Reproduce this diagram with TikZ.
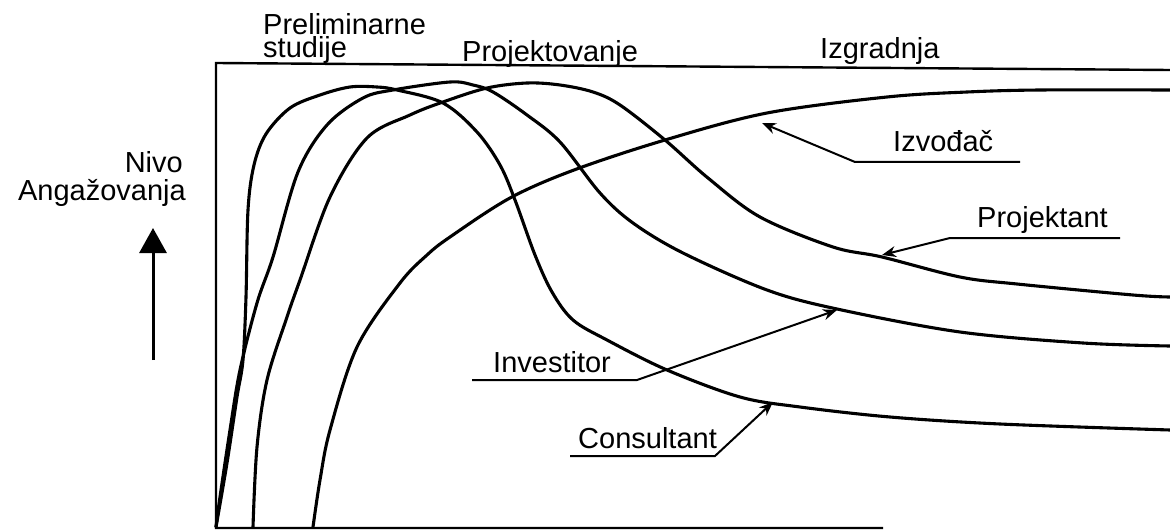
\documentclass[tikz,border=0pt]{standalone}
\usepackage{fontspec}
\setmainfont{Liberation Sans}
\usetikzlibrary{arrows.meta}
\tikzset{
  curve/.style={line width=3.1pt, line cap=round, line join=round},
  frame/.style={line width=2.4pt},
  lbl/.style={anchor=base west, inner sep=0pt, font=\fontsize{29}{29}\selectfont},
  pointer/.style={line width=2pt, -{Stealth[length=14pt,width=11pt]}},
}
\begin{document}
\begin{tikzpicture}[x=1pt,y=-1pt]
\useasboundingbox (0,0) rectangle (1170,532);
% frame
\coordinate (tl) at (216,63);
\coordinate (tr) at (1170,70);
\coordinate (bl) at (216,528);
\coordinate (br) at (883,528);
\draw[frame] (tr) -- (tl) -- (bl) -- (br);
% curves
% Consultant (steepest)
\draw[curve] plot[smooth, tension=0.55] coordinates {(216,527) (227,463) (237,397) (243,360) (246,297) (248,210) (254,165) (266,134) (290,108) (320,95) (350,87) (377,87) (397,90) (443,103) (477,132) (500,165) (515,200) (535,255) (552,292) (573,320) (607,340) (667,370) (740,397) (800,407) (890,417) (1000,424) (1170,430)};
% Investitor
\draw[curve] plot[smooth, tension=0.55] coordinates {(216,527) (220,497) (230,430) (240,370) (257,303) (273,257) (298,172) (327,125) (363,98) (393,90) (450,82) (473,85) (493,92) (527,115) (560,142) (600,193) (633,223) (683,253) (767,290) (837,309) (960,332) (1083,343) (1170,346)};
% Projektant
\draw[curve] plot[smooth, tension=0.55] coordinates {(253,527) (257,447) (267,380) (287,317) (300,280) (330,197) (367,138) (410,115) (443,102) (487,88) (527,83) (560,85) (593,92) (620,105) (665,140) (708,178) (760,217) (833,247) (882,257) (960,277) (1017,284) (1133,295) (1170,297)};
% Izvodjac
\draw[curve] plot[smooth, tension=0.55] coordinates {(313,527) (320,480) (330,430) (357,347) (400,283) (427,255) (450,237) (510,198) (574,170) (665,140) (767,113) (887,97) (967,92) (1040,90) (1170,90)};
% top labels
\node[lbl, align=left, font=\fontsize{29}{23}\selectfont] (prel) at (263,58) {Preliminarne\\studije};
\node[lbl] (proj) at (462,62) {Projektovanje};
\node[lbl] (izg) at (820,59) {Izgradnja};
% y axis label
\node[anchor=base east, inner sep=0pt, font=\fontsize{29}{29}\selectfont] (nivo) at (183,172) {Nivo};
\node[anchor=base east, inner sep=0pt, font=\fontsize{29}{29}\selectfont] (ang) at (186,200) {Angažovanja};
\coordinate (arrB) at (153,360);
\coordinate (arrT) at (153,228);
\draw[line width=3pt, -{Triangle[length=25pt,width=27pt]}] (arrB) -- (arrT);
% curve labels
\node[lbl] (izv) at (893,152) {Izvođač};
\coordinate (izvR) at (1020,162);
\coordinate (izvL) at (855,162);
\coordinate (izvT) at (762,123);
\draw[pointer] (izvR) -- (izvL) -- (izvT);
\node[lbl] (prk) at (977,227) {Projektant};
\coordinate (prkR) at (1120,238);
\coordinate (prkL) at (950,238);
\coordinate (prkT) at (882,255);
\draw[pointer] (prkR) -- (prkL) -- (prkT);
\node[lbl] (inv) at (493,372) {Investitor};
\coordinate (invL) at (472,380);
\coordinate (invR) at (637,380);
\coordinate (invT) at (837,310);
\draw[pointer] (invL) -- (invR) -- (invT);
\node[lbl] (con) at (578,448) {Consultant};
\coordinate (conL) at (570,456);
\coordinate (conR) at (715,456);
\coordinate (conT) at (773,402);
\draw[pointer] (conL) -- (conR) -- (conT);
\end{tikzpicture}
\end{document}
